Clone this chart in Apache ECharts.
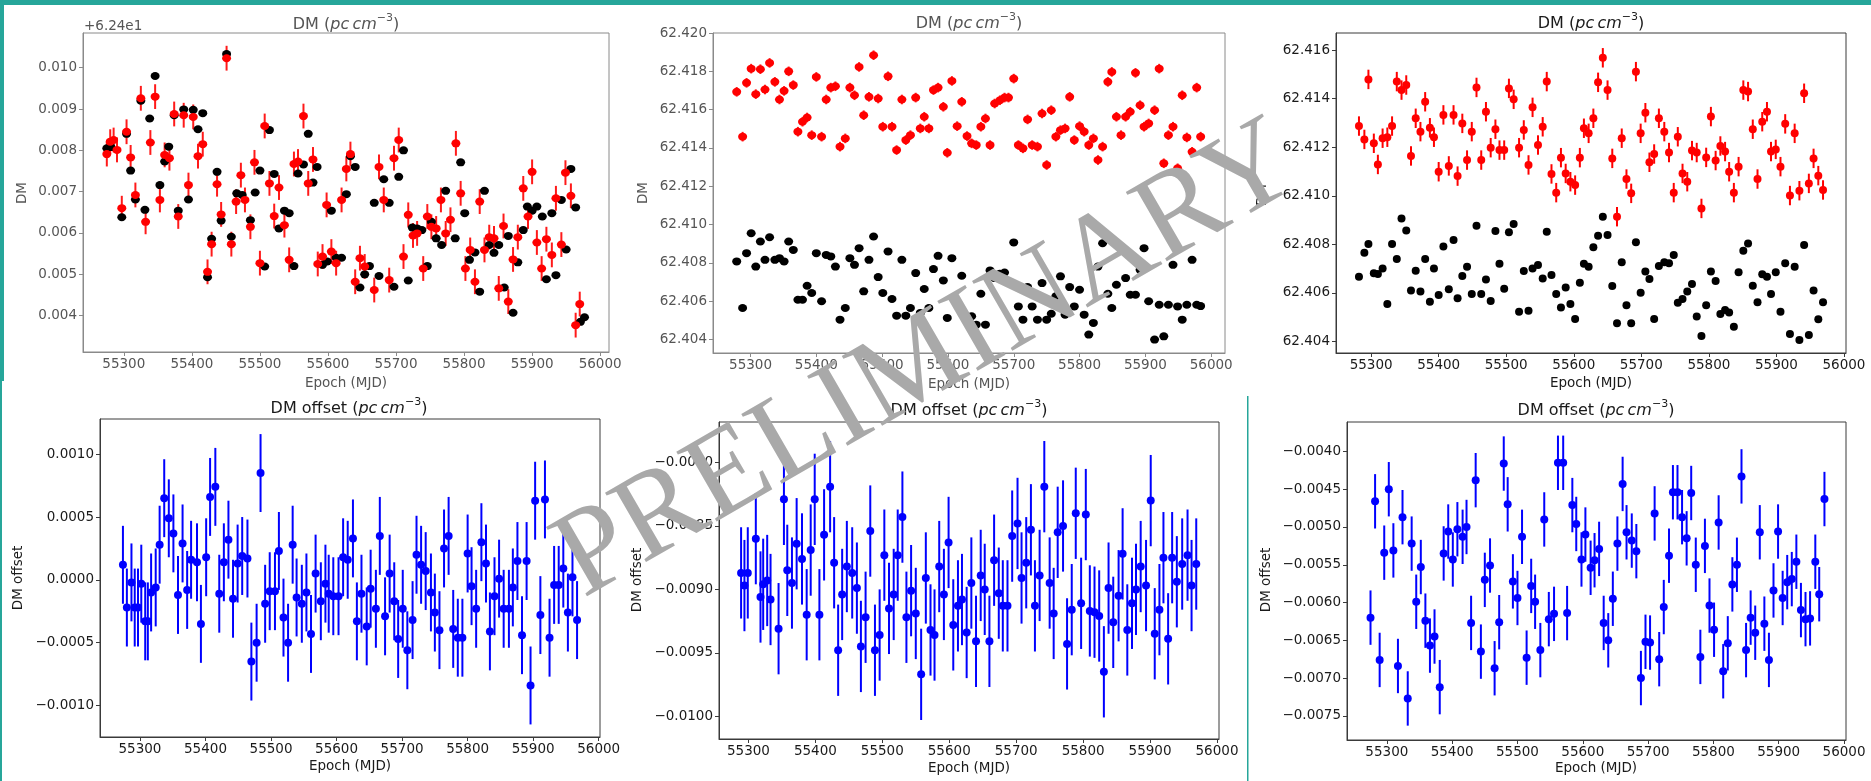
<!DOCTYPE html>
<html><head><meta charset="utf-8">
<script src="https://cdn.jsdelivr.net/npm/echarts@6/dist/echarts.min.js"></script>
<style>
html,body{margin:0;padding:0;background:#fff;}
body{width:1871px;height:781px;position:relative;overflow:hidden;}
#a,#b{position:absolute;left:0;top:0;width:1871px;height:781px;}
#a{filter:blur(0.6px);}
#b{pointer-events:none;}
</style></head><body>
<div id="a"></div><div id="b"></div>
<script>
// ---------------- DATA ----------------
const xTicks = [55300,55400,55500,55600,55700,55800,55900,56000];
const tlTicks = [0.004,0.005,0.006,0.007,0.008,0.009,0.010];
const tmTicks = [62.404,62.406,62.408,62.410,62.412,62.414,62.416,62.418,62.420];
const trTicks = [62.404,62.406,62.408,62.410,62.412,62.414,62.416];
const blTicks = [-0.0010,-0.0005,0.0000,0.0005,0.0010];
const bmTicks = [-0.0100,-0.0095,-0.0090,-0.0085,-0.0080];
const brTicks = [-0.0075,-0.0070,-0.0065,-0.0060,-0.0055,-0.0050,-0.0045,-0.0040];

// Top-left: DM - 62.4 (offset axis "+6.24e1")
const tlBlackEpoch = [55275,55281,55297,55304,55310,55317,55325,55331,55338,55346,55353,55360,55366,55374,55380,55388,55395,55402,55409,55416,55423,55429,55437,55443,55451,55458,55466,55474,55486,55493,55500,55507,55514,55521,55528,55536,55543,55550,55556,55564,55571,55578,55584,55592,55599,55605,55612,55620,55627,55633,55640,55647,55654,55661,55668,55675,55682,55690,55697,55704,55711,55718,55724,55731,55738,55746,55752,55759,55767,55773,55787,55795,55801,55808,55816,55823,55830,55837,55844,55851,55859,55865,55872,55879,55887,55893,55900,55907,55915,55921,55929,55935,55943,55950,55957,55964,55971,55977];
const tlBlack = [0.00805,0.00808,0.00638,0.0084,0.00751,0.00681,0.0092,0.00656,0.00877,0.0098,0.00716,0.00773,0.00809,0.00885,0.00654,0.00899,0.00681,0.00898,0.00851,0.0089,0.00493,0.00586,0.00748,0.0063,0.01033,0.00591,0.00696,0.00692,0.00631,0.00698,0.00751,0.00519,0.00849,0.00743,0.00611,0.00654,0.00648,0.0052,0.00744,0.00766,0.0084,0.00722,0.0076,0.00523,0.00531,0.00654,0.0054,0.0054,0.00694,0.00786,0.0076,0.00468,0.005,0.0052,0.00673,0.00496,0.0073,0.00673,0.0047,0.00736,0.008,0.00485,0.00613,0.00611,0.00607,0.0052,0.00627,0.00587,0.00571,0.00702,0.00587,0.00771,0.00648,0.00535,0.00553,0.00458,0.00702,0.00571,0.00552,0.00571,0.00468,0.00593,0.00407,0.00529,0.00607,0.00664,0.00654,0.00664,0.0064,0.00488,0.00648,0.00498,0.0068,0.0056,0.00755,0.00662,0.00385,0.00396];
const tlRedEpoch = [55275,55280,55285,55290,55297,55304,55310,55317,55325,55332,55339,55346,55353,55360,55367,55374,55380,55388,55395,55402,55409,55416,55423,55429,55437,55443,55451,55458,55465,55472,55478,55486,55492,55500,55507,55514,55521,55528,55536,55543,55550,55556,55564,55571,55578,55585,55592,55598,55605,55612,55620,55627,55633,55640,55647,55654,55668,55675,55682,55690,55697,55704,55711,55718,55725,55731,55740,55746,55752,55759,55766,55773,55780,55788,55795,55802,55809,55816,55823,55830,55837,55844,55851,55858,55865,55872,55879,55887,55894,55900,55907,55914,55921,55929,55935,55943,55949,55957,55964,55970];
const tlRed = [0.00791,0.00821,0.00825,0.00801,0.0066,0.00845,0.00783,0.00692,0.00926,0.00627,0.00819,0.0093,0.0068,0.00789,0.00781,0.00888,0.0064,0.00885,0.00716,0.00881,0.00786,0.00815,0.00506,0.00573,0.00718,0.00645,0.01023,0.00573,0.00676,0.0074,0.0068,0.00615,0.00771,0.00527,0.00859,0.0072,0.00641,0.0071,0.00619,0.00535,0.00767,0.00773,0.00883,0.0072,0.00778,0.00525,0.00543,0.00668,0.00555,0.00527,0.0068,0.00755,0.00791,0.00482,0.00539,0.00519,0.00462,0.0076,0.0068,0.00486,0.00781,0.00825,0.00543,0.00644,0.00594,0.00599,0.00514,0.0064,0.00615,0.00611,0.0068,0.00599,0.00632,0.00817,0.00696,0.00514,0.00559,0.00482,0.00676,0.00559,0.0059,0.00587,0.00466,0.00617,0.00434,0.00536,0.0059,0.00708,0.0064,0.00748,0.00577,0.00514,0.00585,0.00547,0.00684,0.00572,0.00746,0.0069,0.00377,0.00428];
const tlRedErr = 0.0003;

// Top-middle
const tmEpoch = [55279,55288,55294,55301,55308,55315,55322,55329,55337,55344,55351,55358,55365,55372,55379,55386,55393,55400,55408,55415,55422,55429,55436,55444,55451,55458,55465,55472,55480,55487,55494,55501,55509,55515,55522,55530,55536,55543,55551,55558,55564,55571,55578,55585,55593,55599,55606,55614,55621,55629,55636,55643,55650,55657,55664,55671,55679,55686,55692,55700,55707,55714,55721,55728,55736,55743,55750,55757,55764,55771,55778,55785,55792,55800,55807,55814,55821,55828,55835,55843,55849,55856,55863,55870,55877,55885,55892,55898,55905,55914,55921,55928,55935,55942,55949,55956,55963,55971,55978,55984];
const tmRed = [62.41693,62.41459,62.4174,62.41814,62.41681,62.41811,62.41705,62.41844,62.41745,62.41653,62.41698,62.418,62.41728,62.41485,62.41537,62.41559,62.41467,62.41771,62.41459,62.41653,62.41715,62.41722,62.41407,62.4145,62.41715,62.41675,62.41823,62.41571,62.41667,62.41884,62.41658,62.41511,62.41774,62.41511,62.41389,62.41653,62.41441,62.41467,62.41663,62.41502,62.41563,62.41502,62.41702,62.41715,62.41615,62.41375,62.4175,62.41514,62.41641,62.41462,62.41424,62.41415,62.41511,62.41554,62.41415,62.41632,62.41649,62.41663,62.41663,62.41762,62.41415,62.41398,62.41549,62.41415,62.41407,62.4158,62.41311,62.41597,62.41459,62.41493,62.41502,62.41667,62.41441,62.41514,62.41485,62.41415,62.4145,62.41337,62.41407,62.41745,62.41797,62.41563,62.41467,62.41563,62.41589,62.41792,62.41623,62.41511,62.41528,62.41597,62.41814,62.4132,62.41467,62.41511,62.41294,62.41675,62.41455,62.4138,62.41715,62.41459];
const tmBlack = [62.40808,62.40565,62.40851,62.40955,62.40781,62.40912,62.40816,62.40934,62.40816,62.40825,62.40808,62.40912,62.40868,62.40608,62.40608,62.40681,62.40643,62.40851,62.406,62.40842,62.40834,62.40781,62.40504,62.40565,62.40825,62.4079,62.40877,62.40652,62.40816,62.40938,62.40726,62.40643,62.4086,62.40612,62.40525,62.40816,62.40525,62.40565,62.40747,62.40539,62.40664,62.40565,62.40768,62.40837,62.40709,62.40513,62.40825,62.40594,62.40733,62.40522,62.40522,62.40478,62.40639,62.40478,62.40761,62.40721,62.40744,62.4075,62.407,62.40907,62.40573,62.40504,62.40674,62.40573,62.40504,62.40695,62.40504,62.40535,62.40626,62.4073,62.4053,62.40674,62.40573,62.4066,62.4053,62.40426,62.40487,62.40781,62.40903,62.40639,62.40565,62.40686,62.40877,62.40721,62.40634,62.40634,62.40764,62.40877,62.406,62.404,62.40582,62.40417,62.40582,62.4079,62.40573,62.40504,62.40582,62.40816,62.40582,62.40575];
const tmRedErr = 0.00025;

// Top-right
const trEpoch = [55282,55290,55296,55304,55310,55317,55324,55331,55338,55345,55352,55359,55366,55373,55380,55387,55393,55400,55407,55415,55422,55428,55435,55442,55449,55456,55463,55470,55477,55484,55490,55497,55504,55511,55519,55526,55533,55539,55547,55554,55560,55567,55574,55581,55588,55595,55602,55609,55615,55622,55629,55636,55643,55650,55657,55664,55671,55678,55685,55692,55699,55706,55712,55719,55726,55734,55741,55748,55754,55761,55768,55775,55782,55789,55796,55803,55810,55817,55824,55830,55837,55844,55851,55858,55865,55872,55879,55886,55892,55899,55906,55913,55920,55927,55934,55941,55948,55955,55962,55969];
const trRed = [62.41287,62.41232,62.41479,62.41216,62.41129,62.41237,62.41241,62.41287,62.4147,62.41435,62.41456,62.41164,62.41319,62.41264,62.41387,62.4128,62.41241,62.41099,62.41333,62.41123,62.41333,62.41081,62.41298,62.41147,62.41264,62.41446,62.41147,62.41346,62.41198,62.41274,62.41188,62.41188,62.41442,62.41397,62.41198,62.41271,62.41127,62.41364,62.41209,62.41284,62.4147,62.4109,62.41013,62.41157,62.41092,62.41058,62.41044,62.41157,62.41278,62.41257,62.41319,62.41467,62.41568,62.41435,62.41154,62.40914,62.41237,62.41069,62.4101,62.41511,62.41257,62.41342,62.41138,62.41172,62.41319,62.41264,62.41178,62.41013,62.41243,62.41092,62.41058,62.41186,62.41178,62.40948,62.41158,62.41326,62.41145,62.41205,62.41182,62.41099,62.41013,62.4112,62.41435,62.41429,62.41274,62.41069,62.41305,62.41346,62.41182,62.41191,62.4112,62.41296,62.41001,62.41257,62.41021,62.41422,62.41051,62.41154,62.41083,62.41024];
const trBlack = [62.40667,62.40766,62.40802,62.40681,62.40678,62.40701,62.40555,62.40802,62.4074,62.40907,62.40857,62.4061,62.40692,62.40606,62.4074,62.40564,62.40701,62.40592,62.40791,62.40615,62.40818,62.40578,62.4067,62.40708,62.40596,62.40877,62.40596,62.40656,62.40567,62.40855,62.4072,62.40617,62.4085,62.40884,62.40523,62.4069,62.40527,62.40701,62.40715,62.4066,62.40852,62.40674,62.40596,62.4054,62.40623,62.40555,62.40493,62.40642,62.4072,62.40708,62.40788,62.40836,62.40914,62.40839,62.40629,62.40475,62.40726,62.4055,62.40475,62.40809,62.40601,62.40688,62.40658,62.40493,62.40711,62.40726,62.40722,62.40756,62.4056,62.40575,62.40606,62.40637,62.40503,62.40423,62.4055,62.40688,62.40649,62.40514,62.4053,62.4052,62.40461,62.40685,62.40774,62.40804,62.4063,62.40562,62.40677,62.40667,62.40596,62.40685,62.40523,62.40722,62.40431,62.40708,62.40407,62.40798,62.40427,62.4061,62.40492,62.40562];
const trRedErr = 0.0004;

// Bottom-left
const blEpoch = [55274,55280,55287,55292,55297,55302,55308,55312,55317,55324,55330,55337,55344,55351,55358,55365,55372,55378,55387,55393,55401,55407,55415,55421,55428,55435,55442,55449,55456,55464,55470,55478,55484,55491,55498,55506,55512,55519,55526,55533,55539,55547,55554,55561,55568,55576,55583,55588,55595,55603,55610,55617,55625,55631,55638,55646,55652,55660,55666,55674,55681,55688,55694,55701,55708,55716,55722,55729,55736,55744,55750,55757,55764,55771,55778,55785,55792,55800,55806,55813,55821,55828,55834,55841,55848,55855,55863,55869,55876,55883,55890,55896,55903,55911,55918,55925,55932,55939,55946,55953,55960,55967];
const blOffset = [0.00012,-0.00022,-0.00002,-0.00022,-0.00022,-0.00003,-0.00033,-0.00033,-0.0001,-0.00006,0.00028,0.00065,0.00049,0.00037,-0.00012,0.00029,-0.00008,0.00016,0.00014,-0.00035,0.00018,0.00066,0.00074,-0.00011,0.00014,0.00032,-0.00015,0.00013,0.00019,0.00017,-0.00065,-0.0005,0.00085,-0.00019,-0.00009,-0.00009,0.00023,-0.0003,-0.0005,0.00028,-0.00014,-0.00019,-0.0001,-0.00043,0.00005,-0.00017,-0.00003,-0.00011,-0.00013,-0.00013,0.00018,0.00016,0.00033,-0.00033,-0.00011,-0.00037,-0.00007,-0.00023,0.00035,-0.00029,0.00005,-0.00017,-0.00047,-0.00023,-0.00056,-0.00032,0.0002,0.00012,0.00007,-0.0001,-0.00026,-0.0004,0.00025,0.00035,-0.00039,-0.00046,-0.00046,0.00021,-0.00005,-0.00023,0.0003,0.00013,-0.00041,-0.00013,0.00001,-0.00023,-0.00023,-0.00006,0.00015,-0.00044,0.00015,-0.00084,0.00063,-0.00028,0.00064,-0.00046,-0.00004,-0.00004,0.00009,-0.00026,0.00002,-0.00032];
const blErr = 0.00031;

// Bottom-middle
const bmEpoch = [55289,55294,55299,55311,55318,55322,55328,55333,55345,55353,55358,55365,55372,55380,55387,55393,55399,55406,55413,55422,55428,55434,55440,55447,55455,55462,55468,55475,55482,55489,55496,55503,55510,55517,55523,55530,55536,55543,55550,55558,55565,55572,55578,55585,55592,55599,55606,55613,55619,55626,55633,55640,55647,55653,55660,55667,55674,55680,55687,55694,55702,55708,55715,55722,55728,55735,55742,55750,55756,55762,55770,55776,55783,55789,55797,55804,55810,55817,55824,55831,55838,55845,55853,55859,55866,55873,55879,55886,55894,55901,55907,55914,55920,55927,55933,55940,55948,55956,55962,55969];
const bmOffset = [-0.00887,-0.00897,-0.00887,-0.0086,-0.00906,-0.00896,-0.00893,-0.00908,-0.00931,-0.00829,-0.00885,-0.00895,-0.00864,-0.00876,-0.0092,-0.00869,-0.00829,-0.0092,-0.00857,-0.00819,-0.00879,-0.00948,-0.00904,-0.00882,-0.00887,-0.00899,-0.00945,-0.00922,-0.00854,-0.00948,-0.00936,-0.00873,-0.00915,-0.00904,-0.00873,-0.00843,-0.00922,-0.00901,-0.00919,-0.00967,-0.00891,-0.00932,-0.00936,-0.00882,-0.00904,-0.00863,-0.00928,-0.00913,-0.00908,-0.00934,-0.00895,-0.00941,-0.00889,-0.009,-0.00941,-0.00877,-0.00903,-0.00913,-0.00913,-0.00858,-0.00848,-0.00891,-0.00879,-0.00853,-0.00913,-0.00889,-0.00819,-0.00895,-0.00919,-0.00855,-0.0085,-0.00943,-0.00916,-0.0084,-0.00911,-0.00841,-0.00917,-0.00918,-0.00921,-0.00965,-0.00899,-0.00926,-0.00905,-0.00872,-0.00932,-0.00911,-0.009,-0.00882,-0.00897,-0.0083,-0.00935,-0.00916,-0.00875,-0.00939,-0.00875,-0.00894,-0.0088,-0.00873,-0.00897,-0.0088];
const bmErr = 0.00036;

// Bottom-right
const brEpoch = [55275,55282,55289,55296,55303,55310,55317,55324,55332,55338,55345,55352,55359,55366,55373,55381,55387,55394,55401,55408,55416,55422,55429,55436,55444,55450,55458,55465,55472,55479,55485,55493,55500,55507,55514,55521,55527,55535,55541,55548,55556,55562,55570,55576,55584,55590,55598,55604,55612,55618,55625,55632,55639,55646,55653,55661,55667,55675,55682,55689,55696,55703,55710,55717,55724,55732,55738,55745,55752,55759,55766,55773,55780,55787,55794,55801,55808,55815,55822,55829,55836,55843,55850,55857,55864,55871,55878,55885,55892,55899,55906,55913,55920,55927,55934,55941,55948,55956,55962,55970];
const brOffset = [-0.0062,-0.00466,-0.00676,-0.00534,-0.0045,-0.00531,-0.00684,-0.00487,-0.00727,-0.00522,-0.00599,-0.00553,-0.00624,-0.00657,-0.00645,-0.00712,-0.00535,-0.00506,-0.00543,-0.00503,-0.00513,-0.005,-0.00627,-0.00438,-0.00665,-0.0057,-0.00551,-0.00687,-0.00626,-0.00416,-0.0047,-0.00572,-0.00594,-0.00513,-0.00673,-0.00578,-0.00599,-0.00663,-0.0049,-0.00622,-0.00615,-0.00415,-0.00415,-0.00614,-0.00471,-0.00496,-0.00543,-0.0051,-0.00554,-0.00544,-0.00529,-0.00627,-0.0065,-0.00595,-0.00522,-0.00443,-0.00507,-0.00518,-0.00532,-0.007,-0.00652,-0.00653,-0.00482,-0.00675,-0.00606,-0.00538,-0.00454,-0.00454,-0.00487,-0.00515,-0.00455,-0.0055,-0.00672,-0.00525,-0.00604,-0.00636,-0.00494,-0.00691,-0.00654,-0.00576,-0.0055,-0.00433,-0.00663,-0.0062,-0.0064,-0.00507,-0.00628,-0.00676,-0.00584,-0.00506,-0.00594,-0.00573,-0.00569,-0.00546,-0.0061,-0.00622,-0.00621,-0.00546,-0.00589,-0.00463];
const brErr = 0.00036;

// ---------------- RENDER ----------------
const F = 'DejaVu Sans';
const TEAL = '#26a69a';
function zip(xs, ys){ const n=Math.min(xs.length, ys.length); const o=[]; for(let i=0;i<n;i++) o.push([xs[i], ys[i]]); return o; }
function fmt(d){ return v => { let s = Number(v).toFixed(d); if (s.charAt(0)==='-') { s = (/^-0\.0+$/.test(s)) ? s.slice(1) : '\u2212'+s.slice(1); } return s; }; }

function gridOf(b, sp){ return {left:b[0], top:b[1], width:b[2]-b[0], height:b[3]-b[1], show:true, borderColor:sp, borderWidth:1, backgroundColor:'transparent'}; }
function xAxisOf(i, r, sp, tc){ return {gridIndex:i, type:'value', min:r[0], max:r[1], scale:true,
  axisLine:{show:true, onZero:false, lineStyle:{color:sp, width:1}},
  axisTick:{show:true, inside:false, length:4, customValues:xTicks, lineStyle:{color:sp}},
  axisLabel:{show:true, customValues:xTicks, margin:5, color:tc, fontSize:13.5, fontFamily:F, formatter:v=>String(Math.round(v))},
  splitLine:{show:false}}; }
function yAxisOf(i, r, ticks, dec, sp, tc){ return {gridIndex:i, type:'value', min:r[0], max:r[1], scale:true,
  axisLine:{show:true, onZero:false, lineStyle:{color:sp, width:1}},
  axisTick:{show:true, inside:false, length:4, customValues:ticks, lineStyle:{color:sp}},
  axisLabel:{show:true, customValues:ticks, margin:6, color:tc, fontSize:13.5, fontFamily:F, formatter:fmt(dec)},
  splitLine:{show:false}}; }
function dots(i, data, color, size){ return {type:'scatter', xAxisIndex:i, yAxisIndex:i, data, symbol:'circle', symbolSize:size, itemStyle:{color, opacity:1}, silent:true, z:3}; }
function errbars(i, data, err, color, w){ return {type:'custom', xAxisIndex:i, yAxisIndex:i, silent:true, z:2,
  data: data.map(p => [p[0], p[1], err]), encode:{x:0, y:1},
  renderItem:(params, api) => { const x=api.value(0), y=api.value(1), e=api.value(2);
    const a=api.coord([x, y-e]), b=api.coord([x, y+e]);
    return {type:'line', shape:{x1:a[0], y1:a[1], x2:b[0], y2:b[1]}, style:{stroke:color, lineWidth:w}}; }}; }

function title(x, y, label, tc){ return {type:'text', x, y, z:50, style:{
  text:'{n|'+label+' (}{i|pc\u2009cm}{s|\u22123}{n|)}', align:'center', verticalAlign:'middle',
  rich:{ n:{fontSize:16, fontFamily:F, fill:tc, lineHeight:20, verticalAlign:'bottom'},
         i:{fontSize:16, fontFamily:F, fontStyle:'italic', fill:tc, lineHeight:20, verticalAlign:'bottom'},
         s:{fontSize:11, fontFamily:F, fill:tc, lineHeight:12, verticalAlign:'top'} } }}; }
function label(x, y, txt, tc, rot){ return {type:'text', x, y, rotation: rot||0, z:50, style:{text:txt, fontSize:13.5, fontFamily:F, fill:tc, align:'center', verticalAlign:'middle'}}; }

// Chart A: top-left and top-middle (soft, low-res look)
const spA = '#8a8a8a', tcA = '#555';
const tlB = [83,33,609,352], tmB = [713,33,1225,353];
const tlBlackData = zip(tlBlackEpoch, tlBlack), tlRedData = zip(tlRedEpoch, tlRed);
const tmBlackData = zip(tmEpoch, tmBlack), tmRedData = zip(tmEpoch, tmRed);
const chartA = echarts.init(document.getElementById('a'), null, {renderer:'canvas'});
chartA.setOption({
  animation:false, backgroundColor:'#fff',
  grid:[gridOf(tlB, spA), gridOf(tmB, spA)],
  xAxis:[xAxisOf(0,[55240,56013],spA,tcA), xAxisOf(1,[55243,56021],spA,tcA)],
  yAxis:[yAxisOf(0,[0.00312,0.01084],tlTicks,3,spA,tcA), yAxisOf(1,[62.4033,62.4200],tmTicks,3,spA,tcA)],
  series:[
    dots(0, tlBlackData, '#000', [9,8]),
    errbars(0, tlRedData, tlRedErr, '#ff1a1a', 2),
    dots(0, tlRedData, '#ff0000', [9,8]),
    dots(1, tmBlackData, '#000', [9,8]),
    errbars(1, tmRedData, tmRedErr, '#ff1a1a', 2),
    dots(1, tmRedData, '#ff0000', [9,8])
  ],
  graphic:[
    title(346, 23, 'DM', tcA), title(969, 22, 'DM', tcA),
    {type:'text', x:84, y:26, z:50, style:{text:'+6.24e1', fontSize:13.5, fontFamily:F, fill:tcA, align:'left', verticalAlign:'middle'}},
    label(22, 193, 'DM', tcA, Math.PI/2), label(643, 193, 'DM', tcA, Math.PI/2),
    label(346, 383, 'Epoch (MJD)', tcA), label(969, 384, 'Epoch (MJD)', tcA)
  ]
});

// Chart B: top-right + bottom row + decorations + watermark
const spB = '#3a3a3a', tcB = '#1a1a1a';
const trB = [1336,33,1846,353], blB = [100,419,600,737], bmB = [719,422,1219,739], brB = [1347,422,1846,740];
const trBlackData = zip(trEpoch, trBlack), trRedData = zip(trEpoch, trRed);
const blData = zip(blEpoch, blOffset), bmData = zip(bmEpoch, bmOffset), brData = zip(brEpoch, brOffset);
const chartB = echarts.init(document.getElementById('b'), null, {renderer:'canvas'});
chartB.setOption({
  animation:false, backgroundColor:'transparent',
  grid:[gridOf(trB, spB), gridOf(blB, spB), gridOf(bmB, spB), gridOf(brB, spB)],
  xAxis:[xAxisOf(0,[55248,56003],spB,tcB), xAxisOf(1,[55239,56002],spB,tcB), xAxisOf(2,[55256,56003],spB,tcB), xAxisOf(3,[55239,56003],spB,tcB)],
  yAxis:[yAxisOf(0,[62.40353,62.4167],trTicks,3,spB,tcB), yAxisOf(1,[-0.00125,0.00128],blTicks,4,spB,tcB),
         yAxisOf(2,[-0.01018,-0.00768],bmTicks,4,spB,tcB), yAxisOf(3,[-0.00782,-0.00361],brTicks,4,spB,tcB)],
  series:[
    dots(0, trBlackData, '#000', 8),
    errbars(0, trRedData, trRedErr, '#ff0000', 2),
    dots(0, trRedData, '#ff0000', 8),
    errbars(1, blData, blErr, '#0000ff', 2), dots(1, blData, '#0000ff', 8),
    errbars(2, bmData, bmErr, '#0000ff', 2), dots(2, bmData, '#0000ff', 8),
    errbars(3, brData, brErr, '#0000ff', 2), dots(3, brData, '#0000ff', 8)
  ],
  graphic:[
    {type:'rect', shape:{x:0, y:0, width:1871, height:5}, style:{fill:TEAL}, z:60},
    {type:'rect', shape:{x:0, y:0, width:4, height:381}, style:{fill:TEAL}, z:60},
    {type:'rect', shape:{x:0, y:381, width:2, height:400}, style:{fill:TEAL}, z:60},
    {type:'rect', shape:{x:1247, y:396, width:1.5, height:385}, style:{fill:TEAL}, z:60},
    title(1591, 22, 'DM', tcB), title(349, 407, 'DM offset', tcB), title(969, 409, 'DM offset', tcB), title(1596, 409, 'DM offset', tcB),
    label(1262, 195, 'DM', tcB, Math.PI/2), label(18, 578, 'DM offset', tcB, Math.PI/2),
    label(637, 580, 'DM offset', tcB, Math.PI/2), label(1266, 580, 'DM offset', tcB, Math.PI/2),
    label(1591, 383, 'Epoch (MJD)', tcB), label(350, 766, 'Epoch (MJD)', tcB),
    label(969, 768, 'Epoch (MJD)', tcB), label(1596, 768, 'Epoch (MJD)', tcB),
    {type:'text', x:928, y:362, rotation:30*Math.PI/180, z:100, silent:true,
     style:{text:'PRELIMINARY', fontSize:123, fontFamily:'Liberation Serif', fill:'#a9a9a9', align:'center', verticalAlign:'middle'}}
  ]
});
</script>
</body></html>
